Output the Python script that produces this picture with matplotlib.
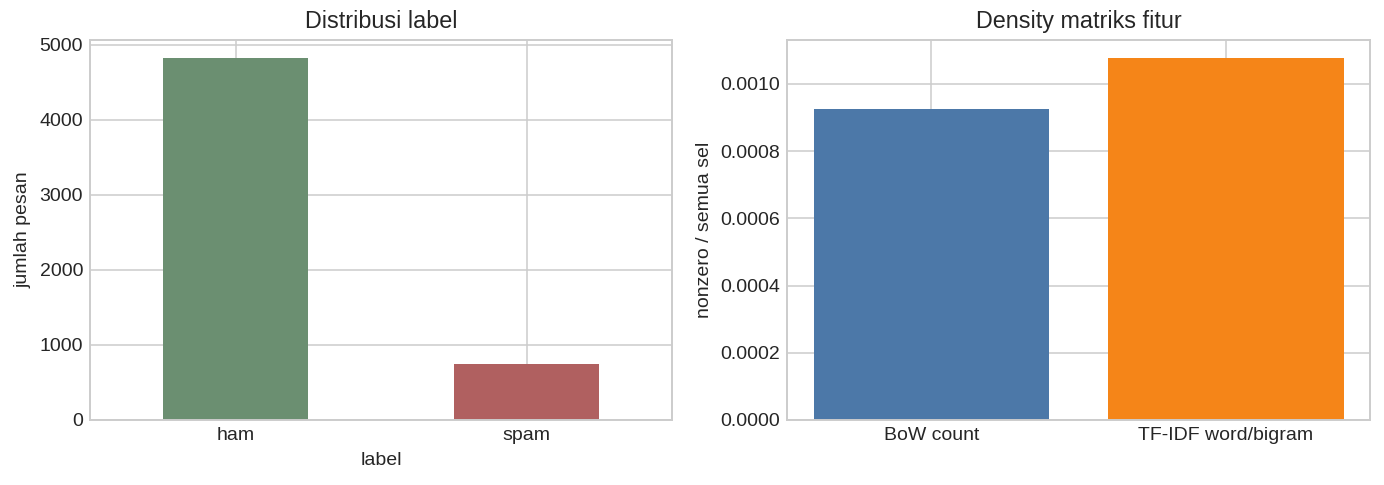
import matplotlib
matplotlib.use("Agg")
import matplotlib.pyplot as plt

label_names = ["ham", "spam"]
label_counts = [4825, 747]
label_colors = ["#6b8f71", "#b06060"]

feature_names = ["BoW count", "TF-IDF word/bigram"]
feature_density = [0.000924, 0.0010766]
feature_colors = ["#4c78a8", "#f58518"]

plt.style.use("seaborn-v0_8-whitegrid")
plt.rcParams["font.family"] = ["Liberation Sans", "DejaVu Sans"]

DPI = 140
W, H = 1384, 485
fig = plt.figure(figsize=(W / DPI, H / DPI), dpi=DPI)
bottom = 1 - 420 / H
height = (420 - 40) / H
ax1 = fig.add_axes([90 / W, bottom, (672 - 90) / W, height])
ax2 = fig.add_axes([787 / W, bottom, (1370 - 787) / W, height])

# kiri: distribusi label (gaya pandas bar plot)
x1 = list(range(len(label_names)))
ax1.bar(x1, label_counts, width=0.5, color=label_colors)
ax1.set_xticks(x1)
ax1.set_xticklabels(label_names)
ax1.set_xlim(-0.5, len(label_names) - 0.5)
ax1.set_title("Distribusi label", fontsize=12)
ax1.set_xlabel("label")
ax1.set_ylabel("jumlah pesan")

# kanan: density matriks fitur
x2 = list(range(len(feature_names)))
ax2.bar(x2, feature_density, width=0.8, color=feature_colors)
ax2.set_xticks(x2)
ax2.set_xticklabels(feature_names)
ax2.set_title("Density matriks fitur", fontsize=12)
ax2.set_ylabel("nonzero / semua sel")
ax2.yaxis.set_major_formatter(matplotlib.ticker.FormatStrFormatter("%.4f"))

for ax in (ax1, ax2):
    ax.tick_params(labelsize=10)
    for spine in ax.spines.values():
        spine.set_visible(True)
        spine.set_color("#cccccc")

plt.savefig("out.png", dpi=DPI)
